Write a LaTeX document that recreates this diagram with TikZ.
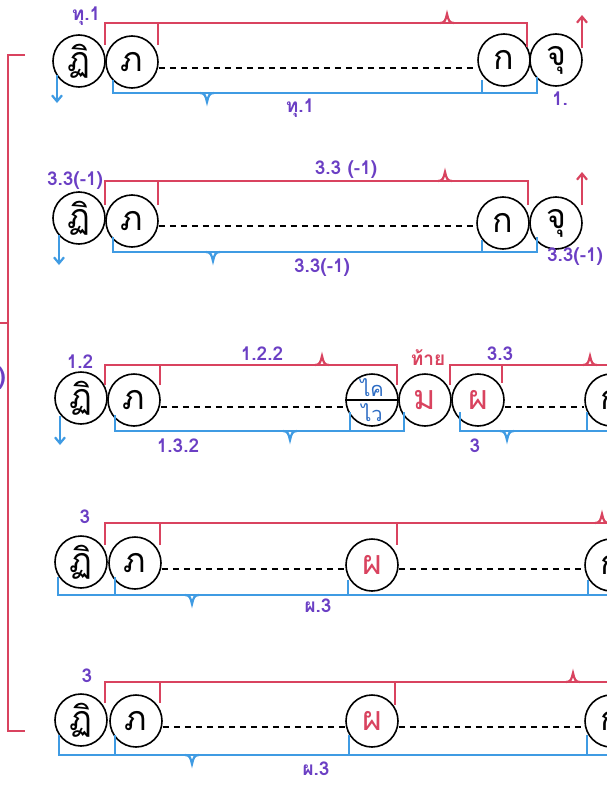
\documentclass[tikz,border=0pt]{standalone}
\usepackage{fontspec}
\setmainfont[Script=Thai]{Loma}
\usetikzlibrary{arrows.meta}
\definecolor{rd}{HTML}{D9435F}
\definecolor{bl}{HTML}{3F9BE3}
\definecolor{pp}{HTML}{6B3FC4}
\definecolor{tb}{HTML}{2C6CC4}
\begin{document}
\begin{tikzpicture}[x=1pt,y=-1pt,
  circ/.style={circle,draw=black,line width=1.6pt,minimum size=52pt,inner sep=0pt,font=\fontsize{34}{36}\selectfont},
  rline/.style={draw=rd,line width=2.2pt},
  bline/.style={draw=bl,line width=2.2pt},
  dline/.style={draw=black,line width=1.5pt,dash pattern=on 6pt off 5pt},
  lab/.style={text=pp,font=\bfseries\fontsize{19}{19}\selectfont,inner sep=0pt},
  arr/.style={-{Straight Barb[length=6pt,width=10pt]}},
  upn/.pic={\draw[rd,line width=2.2pt] (-7,0) .. controls (-2,0) and (-1.5,-3) .. (0,-9) .. controls (1.5,-3) and (2,0) .. (7,0);},
  dnn/.pic={\draw[bl,line width=2.2pt] (-7,0) .. controls (-2,0) and (-1.5,3) .. (0,9) .. controls (1.5,3) and (2,0) .. (7,0);}
]
\clip (0,0) rectangle (607,787);
\fill[white] (0,0) rectangle (607,787);

% left bracket
\draw[rline] (25,55) -- (8,55) -- (8,731) -- (25,731);
\draw[rline] (0,323) -- (8,323);
\node[lab,anchor=east,font=\bfseries\fontsize{24}{24}\selectfont] (paren) at (6,378) {)};

% ---------- row 1
\node[circ] (f1) at (79,61) {ฏิ};
\node[circ] (p1) at (132,62) {ภ};
\node[circ] (k1) at (504,60) {ก};
\node[circ] (j1) at (556,60) {จุ};
\draw[dline] ([yshift=-6pt]p1.east) -- ([yshift=-8pt]k1.west);
\draw[rline] (105,45) -- (105,23) -- (527,23) -- (527,47);
\draw[rline] (158,23) -- (158,45);
\pic at (447,23) {upn};
\draw[rline,arr] (582,48) -- (582,15);
\draw[bline] (113,80) -- (113,93) -- (537,93) -- (537,77);
\draw[bline] (482,80) -- (482,93);
\pic at (207,93) {dnn};
\draw[bline,arr] (57,75) -- (57,103);
\node[lab] (l1a) at (86,16) {ทุ.1};
\node[lab] (l1b) at (300,108) {ทุ.1};
\node[lab] (l1c) at (560,99) {1.};

% ---------- row 2
\node[circ] (f2) at (79,218) {ฏิ};
\node[circ] (p2) at (132,221) {ภ};
\node[circ] (k2) at (503,223) {ก};
\node[circ] (j2) at (556,223) {จุ};
\draw[dline] ([yshift=-5pt]p2.east) -- ([yshift=-3pt]k2.west);
\draw[rline] (105,205) -- (105,181) -- (528,181) -- (528,205);
\draw[rline] (158,181) -- (158,205);
\pic at (445,181) {upn};
\draw[rline,arr] (582,205) -- (582,172);
\draw[bline] (113,237) -- (113,252) -- (537,252) -- (537,237);
\draw[bline] (482,240) -- (482,252);
\pic at (213,252) {dnn};
\draw[bline,arr] (59,235) -- (59,265);
\node[lab] (l2a) at (75,181) {3.3(-1)};
\node[lab] (l2b) at (346,170) {3.3 (-1)};
\node[lab] (l2c) at (322,268) {3.3(-1)};
\node[lab] (l2d) at (575,257) {3.3(-1)};

% ---------- row 3
\node[circ] (f3) at (81,398) {ฏิ};
\node[circ] (p3) at (134,400) {ภ};
\node[circ] (kv) at (372,400) {};
\node[circ,text=rd] (m3) at (425,400) {ม};
\node[circ,text=rd] (ph3) at (478,400) {ผ};
\node[circ] (kr3) at (611,400) {ก};
\draw[black,line width=1.6pt] (kv.west) -- (kv.east);
\node[text=tb,font=\fontsize{20}{20}\selectfont,inner sep=0pt] (kvt) at (372,388) {ไค};
\node[text=tb,font=\fontsize{20}{20}\selectfont,inner sep=0pt] (kvb) at (372,413) {ไว};
\draw[dline] ([yshift=-7pt]p3.east) -- ([yshift=-7pt]kv.west);
\draw[dline] ([yshift=-7pt]ph3.east) -- ([yshift=-7pt]kr3.west);
\draw[rline] (105,385) -- (105,365) -- (397,365) -- (397,385);
\draw[rline] (160,365) -- (160,385);
\pic at (322,365) {upn};
\draw[rline] (450,385) -- (450,365) -- (607,365);
\draw[rline] (502,365) -- (502,383);
\pic at (590,365) {upn};
\draw[bline] (115,415) -- (115,431) -- (404,431) -- (404,412);
\draw[bline] (350,412) -- (350,431);
\pic at (290,431) {dnn};
\draw[bline] (460,412) -- (460,431) -- (607,431);
\draw[bline] (587,412) -- (587,431);
\pic at (507,431) {dnn};
\draw[bline,arr] (60,416) -- (60,445);
\node[lab] (l3a) at (80,362) {1.2};
\node[lab] (l3b) at (262,354) {1.2.2};
\node[lab,text=rd] (l3c) at (428,358) {ท้าย};
\node[lab] (l3d) at (500,354) {3.3};
\node[lab] (l3e) at (178,446) {1.3.2};
\node[lab] (l3f) at (475,446) {3};

% ---------- row 4
\node[circ] (f4) at (81,562) {ฏิ};
\node[circ] (p4) at (135,563) {ภ};
\node[circ,text=rd] (ph4) at (372,565) {ผ};
\node[circ] (kr4) at (611,565) {ก};
\draw[dline] ([yshift=-6pt]p4.east) -- ([yshift=-4pt]ph4.west);
\draw[dline] ([yshift=-4pt]ph4.east) -- ([yshift=-4pt]kr4.west);
\draw[rline] (105,545) -- (105,523) -- (607,523);
\draw[rline] (160,523) -- (160,545);
\draw[rline] (397,523) -- (397,545);
\pic at (602,523) {upn};
\draw[bline] (58,577) -- (58,595) -- (607,595);
\draw[bline] (115,577) -- (115,595);
\draw[bline] (348,580) -- (348,595);
\draw[bline] (588,580) -- (588,595);
\pic at (192,595) {dnn};
\node[lab] (l4a) at (85,517) {3};
\node[lab] (l4b) at (318,606) {ผ.3};

% ---------- row 5
\node[circ] (f5) at (81,720) {ฏิ};
\node[circ] (p5) at (136,721) {ภ};
\node[circ,text=rd] (ph5) at (372,721) {ผ};
\node[circ] (kr5) at (611,721) {ก};
\draw[dline] ([yshift=-6pt]p5.east) -- ([yshift=-6pt]ph5.west);
\draw[dline] ([yshift=-6pt]ph5.east) -- ([yshift=-6pt]kr5.west);
\draw[rline] (105,703) -- (105,682) -- (607,682);
\draw[rline] (160,682) -- (160,703);
\draw[rline] (395,682) -- (395,705);
\pic at (573,682) {upn};
\draw[bline] (59,735) -- (59,755) -- (607,755);
\draw[bline] (115,735) -- (115,755);
\draw[bline] (349,735) -- (349,755);
\draw[bline] (587,735) -- (587,755);
\pic at (192,755) {dnn};
\node[lab] (l5a) at (87,676) {3};
\node[lab] (l5b) at (316,769) {ผ.3};
\end{tikzpicture}
\end{document}
